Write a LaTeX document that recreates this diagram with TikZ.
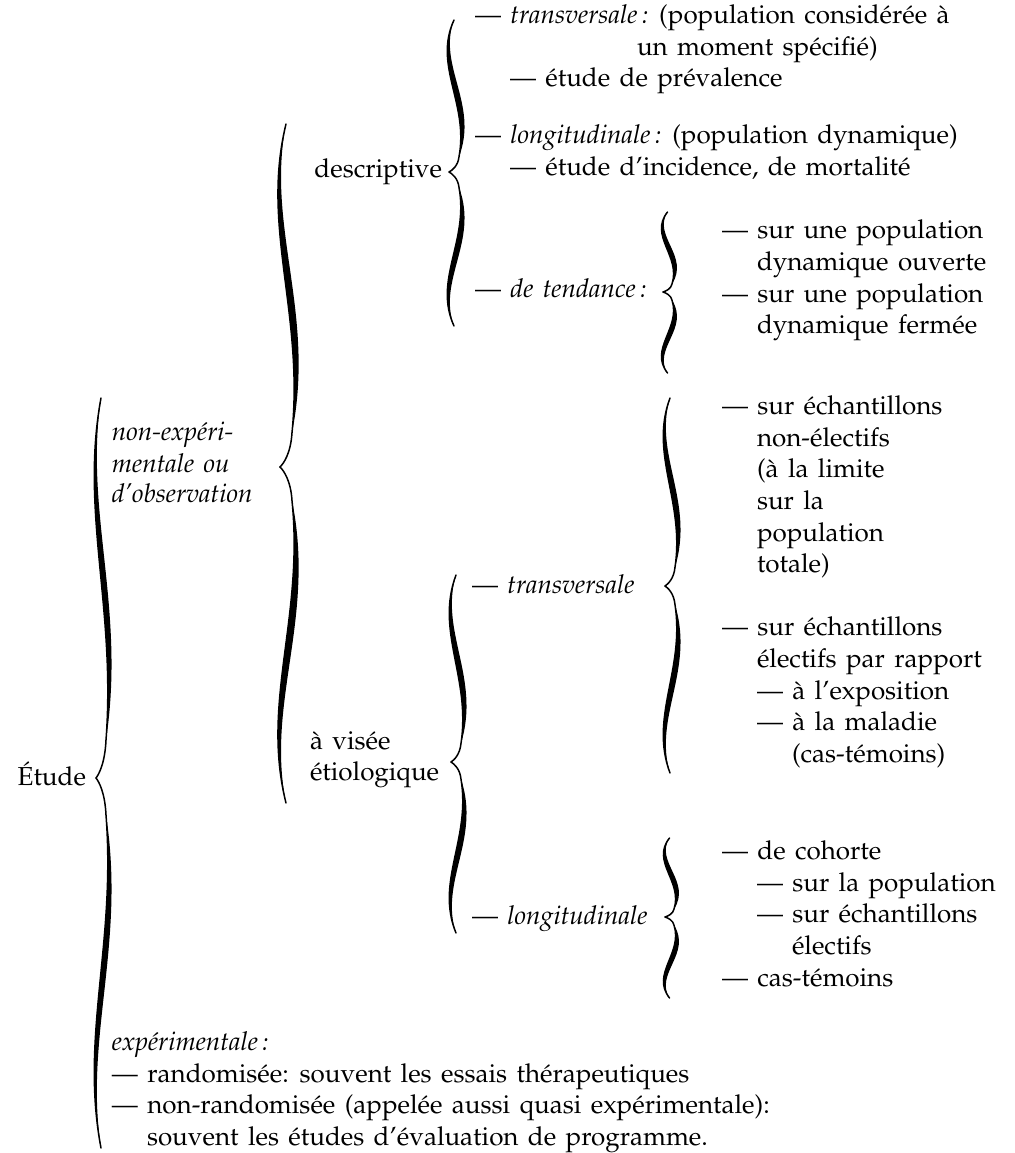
\documentclass[tikz,border=0pt]{standalone}
\usepackage[T1]{fontenc}
\renewcommand{\rmdefault}{ppl}
\newcommand\mybrace[5]{%
  \pgfmathsetmacro\bhu{#3-#2}%
  \pgfmathsetmacro\bhl{#3-#4}%
  \begin{scope}[shift={(#1,#2)}, xscale=#5, yscale=\bhu]
    \fill (0.5,0) .. controls (-1.6,0.3) and (2.0,0.55) .. (1.0,0.9) .. controls (3.0,0.55) and (-1.2,0.3) .. (0.5,0) -- cycle;
    \draw[brline] (0.5,0) .. controls (-1.6,0.3) and (2.0,0.55) .. (1.0,0.9) .. controls (0.9,0.96) and (0.3,0.99) .. (0,1);
  \end{scope}
  \begin{scope}[shift={(#1,#4)}, xscale=#5, yscale=\bhl]
    \fill (0.5,0) .. controls (-1.6,0.3) and (2.0,0.55) .. (1.0,0.9) .. controls (3.0,0.55) and (-1.2,0.3) .. (0.5,0) -- cycle;
    \draw[brline] (0.5,0) .. controls (-1.6,0.3) and (2.0,0.55) .. (1.0,0.9) .. controls (0.9,0.96) and (0.3,0.99) .. (0,1);
  \end{scope}
}
\newcommand\widespaces{\spaceskip=0.36em plus 0.1em\relax}
\tikzset{
  lbl/.style={anchor=base west, inner sep=0pt, outer sep=0pt,
    font=\fontsize{13}{15.85}\selectfont, execute at begin node=\widespaces},
  lble/.style={lbl, anchor=base east},
  brline/.style={draw=black, line width=0.75pt, line cap=round},
}
\begin{document}
\begin{tikzpicture}[x=0.5pt,y=-0.5pt]
\useasboundingbox (0,0) rectangle (1014,1153);
% --- descriptive branch
\node[lbl] (d1) at (475,23) {--- \textit{transversale\,:} (population consid\'er\'ee \`a};
\node[lbl] (d1b) at (637,55) {un moment sp\'ecifi\'e)};
\node[lbl] (d2) at (510,86) {--- \'etude de pr\'evalence};
\node[lbl] (d3) at (475,143) {--- \textit{longitudinale\,:} (population dynamique)};
\node[lbl] (d4) at (510,175) {--- \'etude d'incidence, de mortalit\'e};
\node[lble] (desc) at (442,177) {descriptive};
\node[lbl] (tend) at (475,297) {--- \textit{de tendance\,:}};
\node[lbl] (t1) at (722,238) {--- sur une population};
\node[lbl] (t2) at (757,270) {dynamique ouverte};
\node[lbl] (t3) at (722,302) {--- sur une population};
\node[lbl] (t4) at (757,333) {dynamique ferm\'ee};
% --- etiological branch
\node[lbl] (et) at (472,593) {--- \textit{transversale}};
\node[lbl] (e1) at (722,414) {--- sur \'echantillons};
\node[lbl] (e2) at (757,446) {non-\'electifs};
\node[lbl] (e3) at (757,477) {(\`a la limite};
\node[lbl] (e4) at (757,509) {sur la};
\node[lbl] (e5) at (757,541) {population};
\node[lbl] (e6) at (757,572) {totale)};
\node[lbl] (e7) at (722,635) {--- sur \'echantillons};
\node[lbl] (e8) at (757,667) {\'electifs par rapport};
\node[lbl] (e9) at (757,699) {--- \`a l'exposition};
\node[lbl] (e10) at (757,730) {--- \`a la maladie};
\node[lbl] (e11) at (792,762) {(cas-t\'emoins)};
\node[lbl] (el) at (472,924) {--- \textit{longitudinale}};
\node[lbl] (l1) at (722,859) {--- de cohorte};
\node[lbl] (l2) at (757,891) {--- sur la population};
\node[lbl] (l3) at (757,922) {--- sur \'echantillons};
\node[lbl] (l4) at (792,954) {\'electifs};
\node[lbl] (l5) at (722,986) {--- cas-t\'emoins};
\node[lbl] (av1) at (310,749) {\`a vis\'ee};
\node[lbl] (av2) at (310,780) {\'etiologique};
% --- non-experimental
\node[lbl] (ne1) at (112,440) {\textit{non-exp\'eri-}};
\node[lbl] (ne2) at (112,472) {\textit{mentale ou}};
\node[lbl] (ne3) at (112,502) {\textit{d'observation}};
\node[lble] (etude) at (86,785) {\'Etude};
% --- experimental
\node[lbl] (x1) at (112,1050) {\textit{exp\'erimentale\,:}};
\node[lbl] (x2) at (112,1082) {--- randomis\'ee: souvent les essais th\'erapeutiques};
\node[lbl] (x3) at (112,1113) {--- non-randomis\'ee (appel\'ee aussi quasi exp\'erimentale):};
\node[lbl] (x4) at (147,1145) {souvent les \'etudes d'\'evaluation de programme.};
% --- braces
\mybrace{96}{398}{778}{1148}{10}
\mybrace{280}{124}{467}{803}{12}
\mybrace{449}{20}{172}{326}{10}
\mybrace{663}{212}{292}{373}{9}
\mybrace{665}{398}{586}{773}{10}
\mybrace{451}{575}{762}{933}{10}
\mybrace{665}{838}{917}{998}{9}
\end{tikzpicture}
\end{document}
